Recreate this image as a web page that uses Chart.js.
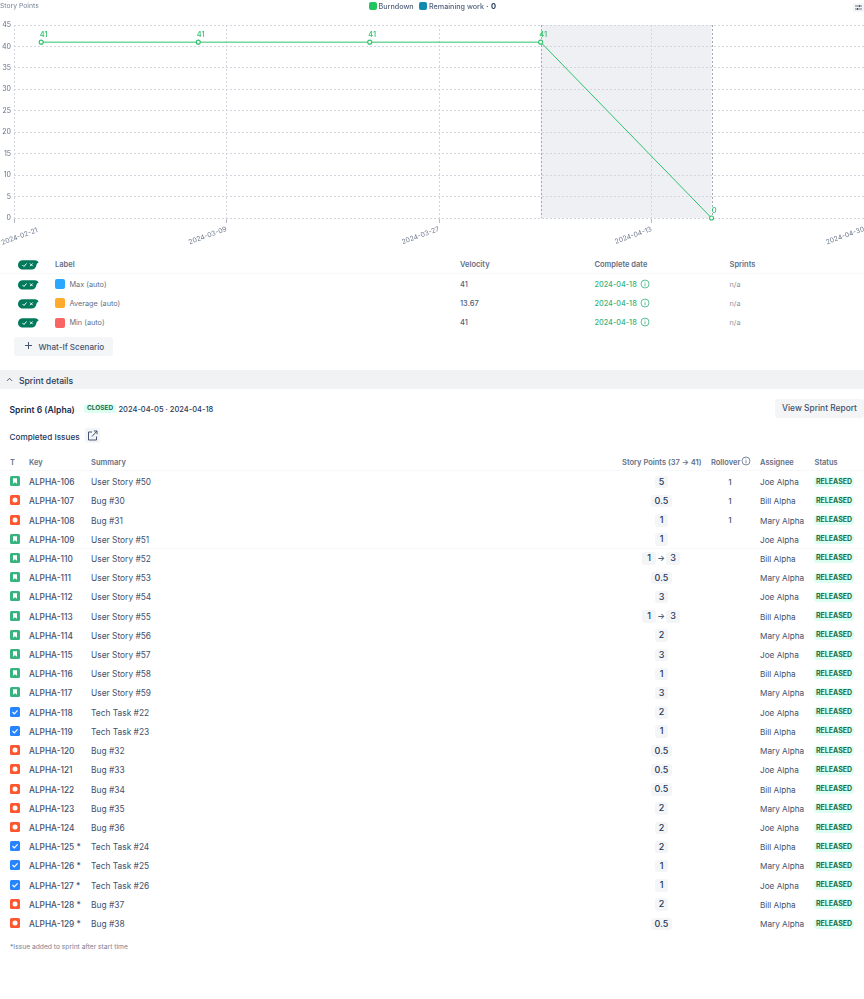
<!DOCTYPE html>
<html>
<head>
<meta charset="utf-8">
<script src="https://cdn.jsdelivr.net/npm/chart.js@4"></script>
<style>
  html, body { margin: 0; padding: 0; background: #fff; }
  body { position: relative; width: 864px; height: 999px; overflow: hidden; font-family: Inter, sans-serif; color: #44546f; font-size: 9px; }
  .abs { position: absolute; white-space: nowrap; line-height: 12px; }
  #chartBox { position: absolute; left: 0; top: 0; width: 864px; height: 250px; }
  .swatch { position: absolute; border-radius: 2px; }
  .row { position: absolute; left: 0; width: 864px; height: 19px; }
  .pill { position: absolute; top: 3px; height: 12.5px; line-height: 12.5px; text-align: center; background: #f4f5f7; border-radius: 3px; color: #253858; font-weight: 500; font-size: 9px; }
  .status { position: absolute; left: 814px; top: 4px; width: 40px; height: 10px; line-height: 10px; text-align: center; background: #dcfff1; border-radius: 3px; color: #216e4e; font-weight: 700; font-size: 7px; }
  .line { position: absolute; left: 0; width: 864px; height: 1px; background: #f7f8f9; }
</style>
</head>
<body>
<div id="chartBox"><canvas id="burndownChart"></canvas></div>
<div id="page"></div>
<script>
// chart values
const pointDates = ['2024-02-24T12:00Z', '2024-03-08T06:00Z', '2024-03-22T04:00Z', '2024-04-05T01:00Z', '2024-04-18T22:00Z'];
const burndownValues = [41, 41, 41, 41, 0];
const xTickLabels = ['2024-02-21', '2024-03-09', '2024-03-27', '2024-04-13', '2024-04-30'];
const yTicks = [0, 5, 10, 15, 20, 25, 30, 35, 40, 45];
const sprintRange = ['2024-04-05T01:00Z', '2024-04-18T22:00Z'];
const axisStart = '2024-02-22T07:00Z';
const axisDays = 69;

// scenario table
const scenarioLabels = ['Max (auto)', 'Average (auto)', 'Min (auto)'];
const scenarioColors = ['#2aa7ff', '#ffab2e', '#f96464'];
const scenarioVelocity = ['41', '13.67', '41'];
const scenarioDates = ['2024-04-18', '2024-04-18', '2024-04-18'];

// issue table
const issueTypes = ['story','bug','bug','story','story','story','story','story','story','story','story','story','task','task','bug','bug','bug','bug','bug','task','task','task','bug','bug'];
const issueKeys = ['ALPHA-106','ALPHA-107','ALPHA-108','ALPHA-109','ALPHA-110','ALPHA-111','ALPHA-112','ALPHA-113','ALPHA-114','ALPHA-115','ALPHA-116','ALPHA-117','ALPHA-118','ALPHA-119','ALPHA-120','ALPHA-121','ALPHA-122','ALPHA-123','ALPHA-124','ALPHA-125 *','ALPHA-126 *','ALPHA-127 *','ALPHA-128 *','ALPHA-129 *'];
const issueSummaries = ['User Story #50','Bug #30','Bug #31','User Story #51','User Story #52','User Story #53','User Story #54','User Story #55','User Story #56','User Story #57','User Story #58','User Story #59','Tech Task #22','Tech Task #23','Bug #32','Bug #33','Bug #34','Bug #35','Bug #36','Tech Task #24','Tech Task #25','Tech Task #26','Bug #37','Bug #38'];
const issuePoints = ['5','0.5','1','1','1>3','0.5','3','1>3','2','3','1','3','2','1','0.5','0.5','0.5','2','2','2','1','1','2','0.5'];
const issueRollover = ['1','1','1','','','','','','','','','','','','','','','','','','','','',''];
const issueAssignees = ['Joe Alpha','Bill Alpha','Mary Alpha','Joe Alpha','Bill Alpha','Mary Alpha','Joe Alpha','Bill Alpha','Mary Alpha','Joe Alpha','Bill Alpha','Mary Alpha','Joe Alpha','Bill Alpha','Mary Alpha','Joe Alpha','Bill Alpha','Mary Alpha','Joe Alpha','Bill Alpha','Mary Alpha','Joe Alpha','Bill Alpha','Mary Alpha'];

const GREEN = '#2fc26b';
const DAY = 86400000;
const xMin = Date.parse(axisStart);
const xStep = axisDays * DAY / (xTickLabels.length - 1);

const sprintShade = {
  id: 'sprintShade',
  beforeDraw(chart) {
    const { ctx, chartArea, scales } = chart;
    const x0 = scales.x.getPixelForValue(Date.parse(sprintRange[0]));
    const x1 = scales.x.getPixelForValue(Date.parse(sprintRange[1]));
    ctx.save();
    ctx.fillStyle = '#eff0f4';
    ctx.fillRect(x0, chartArea.top, x1 - x0, chartArea.bottom - chartArea.top);
    ctx.restore();
  },
  beforeDatasetsDraw(chart) {
    const { ctx, chartArea, scales } = chart;
    ctx.save();
    ctx.strokeStyle = '#a5a8b5';
    ctx.lineWidth = 1;
    ctx.setLineDash([2, 2]);
    sprintRange.forEach(d => {
      const x = Math.round(scales.x.getPixelForValue(Date.parse(d))) + 0.5;
      ctx.beginPath();
      ctx.moveTo(x, chartArea.top);
      ctx.lineTo(x, chartArea.bottom);
      ctx.stroke();
    });
    ctx.restore();
  }
};

// value labels, and the first x label which sits inside the page edge
const pointLabels = {
  id: 'pointLabels',
  afterDraw(chart) {
    const { ctx, chartArea } = chart;
    ctx.save();
    ctx.font = '500 7.5px Inter, sans-serif';
    ctx.fillStyle = GREEN;
    ctx.textAlign = 'center';
    chart.getDatasetMeta(0).data.forEach((pt, i) => {
      ctx.fillText(burndownValues[i], pt.x + 2.5, pt.y - 5);
    });
    ctx.font = '6.8px Inter, sans-serif';
    ctx.fillStyle = '#6b778c';
    ctx.translate(37.5, chartArea.bottom + 12);
    ctx.rotate(-20 * Math.PI / 180);
    ctx.textAlign = 'right';
    ctx.textBaseline = 'middle';
    ctx.fillText(xTickLabels[0], 0, 0);
    ctx.restore();
  }
};

new Chart(document.getElementById('burndownChart').getContext('2d'), {
  type: 'line',
  data: {
    datasets: [{
      label: 'Burndown',
      data: pointDates.map((d, i) => ({ x: Date.parse(d), y: burndownValues[i] })),
      borderColor: GREEN,
      borderWidth: 1,
      pointBackgroundColor: '#fff',
      pointBorderColor: GREEN,
      pointBorderWidth: 1.1,
      pointRadius: 2,
      tension: 0,
      clip: false
    }]
  },
  options: {
    responsive: true,
    maintainAspectRatio: false,
    animation: false,
    layout: { autoPadding: false, padding: { top: 25, left: 0, right: 0, bottom: 0 } },
    plugins: { legend: { display: false }, tooltip: { enabled: false } },
    scales: {
      x: {
        type: 'linear',
        min: xMin,
        max: xMin + axisDays * DAY,
        afterBuildTicks(scale) {
          scale.ticks = xTickLabels.map((_, i) => ({ value: xMin + i * xStep }));
        },
        afterFit(scale) { scale.height = 32; scale.paddingLeft = 0; scale.paddingRight = 0; },
        border: { display: false, dash: [2, 2] },
        grid: { color: '#d3d5df', tickBorderDash: [], tickColor: '#b6b9c5', tickLength: 5 },
        ticks: {
          autoSkip: false,
          minRotation: 20,
          maxRotation: 20,
          padding: 2,
          color: '#6b778c',
          font: { family: 'Inter, sans-serif', size: 6.8 },
          callback(value, i) { return i === 0 ? '' : xTickLabels[i]; }
        }
      },
      y: {
        min: 0,
        max: 45,
        afterBuildTicks(scale) { scale.ticks = yTicks.map(v => ({ value: v })); },
        afterFit(scale) { scale.width = 14; scale.paddingTop = 0; scale.paddingBottom = 0; },
        border: { display: false, dash: [2, 2] },
        grid: { color: '#d3d5df', drawTicks: false },
        ticks: {
          padding: 3,
          color: '#626f86',
          font: { family: 'Inter, sans-serif', size: 7 }
        }
      }
    }
  },
  plugins: [sprintShade, pointLabels]
});

// everything around the chart
const page = document.getElementById('page');
const HEAD = 'font-size:7.5px;font-weight:600;color:#626f86';
function text(x, y, str, style) {
  return `<div class="abs" style="left:${x}px;top:${y - 6}px;${style || ''}">${str}</div>`;
}
function infoIcon(x, y, color) {
  return `<svg class="abs" style="left:${x}px;top:${y}px" width="10" height="10" viewBox="0 0 10 10" fill="none" stroke="${color}" stroke-width=".8"><circle cx="5" cy="5" r="4"/><path d="M5 2.6v.7M5 4.3v3"/></svg>`;
}
function toggle(y) {
  return `<svg class="abs" style="left:18px;top:${y - 5}px" width="21" height="10" viewBox="0 0 21 10"><path d="M5 .3h12c1.5 0 3.5 1.2 3.5 2.4C18.5 3 18.8 4.2 18 6.5c-1 2-2 3-4 3H5C2 9.5 0 7.5 0 4.9S2 .3 5 .3z" fill="#007a5a"/><path d="M4.5 5l1.5 1.5L8.5 3.5" stroke="#fff" fill="none" stroke-width="1"/><path d="M12 3.5l2.7 2.7M14.7 3.5L12 6.2" stroke="#fff" fill="none" stroke-width="1"/></svg>`;
}
function typeIcon(type) {
  const colors = { story: '#36b37e', bug: '#ff5630', task: '#2684ff' };
  const glyphs = {
    story: '<path d="M3 2.3h4v5.4L5 6.3 3 7.7z" fill="#fff"/>',
    bug: '<circle cx="5" cy="5" r="2.5" fill="#fff"/>',
    task: '<path d="M2.5 5l1.8 1.8L7.6 3.4" stroke="#fff" stroke-width="1.2" fill="none"/>'
  };
  return `<svg style="position:absolute;left:9.5px;top:3.5px" width="10" height="10" viewBox="0 0 10 10"><rect width="10" height="10" rx="1.5" fill="${colors[type]}"/>${glyphs[type]}</svg>`;
}
function pointsPill(cx, val) {
  const w = val.length > 1 ? 21 : 13.5;
  return `<div class="pill" style="left:${cx - w / 2}px;width:${w}px">${val}</div>`;
}

let html = '';
// chart header
html += text(0, 6, 'Story Points', 'font-size:6.8px;color:#758195');
html += `<div class="swatch" style="left:369px;top:2px;width:7.5px;height:7.5px;background:#22c55e"></div>`;
html += text(378.5, 7, 'Burndown', 'font-size:7.2px;font-weight:500;color:#505f79');
html += `<div class="swatch" style="left:419px;top:2px;width:7.5px;height:7.5px;background:#0e8bb0"></div>`;
html += text(429, 7, 'Remaining work', 'font-size:7.2px;font-weight:500;color:#505f79');
html += text(486, 7, '·', 'font-size:7.5px;font-weight:700;color:#505f79');
html += text(491, 7, '0', 'font-size:7.5px;font-weight:700;color:#253858');
html += `<svg class="abs" style="left:853px;top:3px" width="11" height="9" viewBox="0 0 11 9"><rect width="11" height="9" rx="1.5" fill="#f4f5f7"/><path d="M2 3h7M2 6h7" stroke="#44546f" stroke-width=".8"/><path d="M6.5 2v2M4.5 5v2" stroke="#44546f" stroke-width="1"/></svg>`;

// scenario table
html += toggle(265) + text(55, 265, 'Label', HEAD);
html += text(460, 265, 'Velocity', HEAD);
html += text(594.5, 265, 'Complete date', HEAD);
html += text(729.5, 265, 'Sprints', HEAD);
html += `<div class="line" style="top:273px"></div>`;
const scenarioY = [284.5, 303.5, 323];
scenarioLabels.forEach((label, i) => {
  const y = scenarioY[i];
  html += toggle(y);
  html += `<div class="swatch" style="left:55px;top:${y - 5.5}px;width:10px;height:10px;background:${scenarioColors[i]}"></div>`;
  html += text(69.5, y, label, 'font-size:7.3px;color:#626f86');
  html += text(460, y, scenarioVelocity[i], 'font-size:7.5px;font-weight:500;color:#505f79');
  html += text(594.5, y, scenarioDates[i], 'font-size:7.3px;font-weight:500;color:#36b37e');
  html += infoIcon(639.5, y - 6, '#36b37e');
  html += text(729.5, y, 'n/a', 'font-size:7.3px;color:#8993a4');
});
html += `<div class="abs" style="left:14px;top:337px;width:99px;height:19px;background:#f4f5f7;border-radius:3px"></div>`;
html += `<svg class="abs" style="left:24px;top:341px" width="9" height="9" viewBox="0 0 9 9"><path d="M4.5 1v7M1 4.5h7" stroke="#44546f" stroke-width="1"/></svg>`;
html += text(38.5, 347, 'What-If Scenario', 'font-size:8.1px;font-weight:500;color:#44546f');

// sprint details
html += `<div class="abs" style="left:0;top:370px;width:864px;height:19px;background:#f1f2f4"></div>`;
html += `<svg class="abs" style="left:6px;top:377px" width="7" height="5" viewBox="0 0 7 5"><path d="M1 3.8L3.5 1.3 6 3.8" stroke="#44546f" stroke-width="1" fill="none"/></svg>`;
html += text(19, 381, 'Sprint details', 'font-size:8.6px;font-weight:500;color:#253858');
html += text(9.5, 410, 'Sprint 6 (Alpha)', 'font-size:8.6px;font-weight:600;color:#172b4d');
html += `<div class="abs" style="left:84px;top:404px;width:32px;height:9px;line-height:9px;text-align:center;background:#dcfff1;border-radius:2px;color:#216e4e;font-weight:700;font-size:6.5px">CLOSED</div>`;
html += text(118.5, 410, '2024-04-05 · 2024-04-18', 'font-size:7.5px;font-weight:500;color:#253858');
html += `<div class="abs" style="left:775px;top:399px;width:89px;height:19px;line-height:19px;text-align:center;background:#f4f5f7;border-radius:3px;font-size:8.4px;font-weight:500;color:#42526e">View Sprint Report</div>`;
html += text(9.5, 436.5, 'Completed Issues', 'font-size:8.2px;font-weight:500;color:#253858');
html += `<svg class="abs" style="left:85px;top:428px" width="15" height="15" viewBox="0 0 15 15" fill="none" stroke="#44546f" stroke-width="1"><rect width="15" height="15" rx="2" fill="#f4f5f7" stroke="none"/><path d="M7 4H3.5v8h8V8.5M7 8.5L12 3M8.8 3H12v3.2"/></svg>`;

// issue table header
html += text(10, 462.5, 'T', HEAD);
html += text(29, 462.5, 'Key', HEAD);
html += text(91, 462.5, 'Summary', HEAD);
html += text(622, 462.5, 'Story Points (37 → 41)', HEAD);
html += text(711, 462.5, 'Rollover', HEAD);
html += infoIcon(741, 455.5, '#626f86');
html += text(760, 462.5, 'Assignee', HEAD);
html += text(814.5, 462.5, 'Status', HEAD);
html += `<div class="line" style="top:470px"></div>`;
html += `<div class="line" style="top:548px"></div>`;

// issue rows
issueKeys.forEach((key, i) => {
  const top = 472.6 + i * 19.217;
  const pts = issuePoints[i].split('>');
  let pointsHtml = '';
  if (pts.length === 2) {
    pointsHtml = pointsPill(649, pts[0]) + pointsPill(673, pts[1]) +
      `<div class="abs" style="left:656px;top:2.5px;width:10px;text-align:center;font-size:8px;color:#253858">→</div>`;
  } else {
    pointsHtml = pointsPill(661.5, pts[0]);
  }
  html += `<div class="row" style="top:${top}px">
    ${typeIcon(issueTypes[i])}
    <div class="abs" style="left:29px;top:3.5px;font-size:8.3px;font-weight:500;color:#42526e">${key}</div>
    <div class="abs" style="left:91px;top:3.5px;font-size:8.4px;color:#42526e">${issueSummaries[i]}</div>
    ${pointsHtml}
    <div class="abs" style="left:720px;width:20px;text-align:center;top:3px;font-size:8px;font-weight:500;color:#42526e">${issueRollover[i]}</div>
    <div class="abs" style="left:760px;top:3.5px;font-size:8.2px;color:#42526e">${issueAssignees[i]}</div>
    <div class="status">RELEASED</div>
  </div>`;
});
html += text(10, 947, '*Issue added to sprint after start time', 'font-size:6.7px;color:#758195');
page.innerHTML = html;
</script>
</body>
</html>
